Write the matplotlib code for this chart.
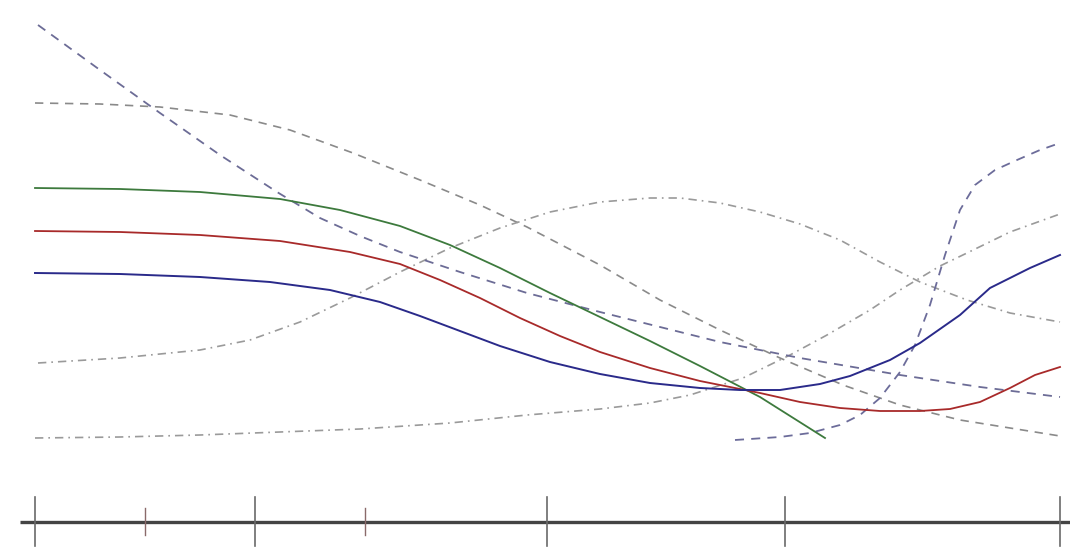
import numpy as np
import matplotlib.pyplot as plt

# points (x to the right, y upwards, image units)
green_x = [35, 120, 200, 280, 340, 400, 450, 500, 550, 600, 650, 700, 760, 825]
green_y = [360, 359, 356, 349, 338, 322, 303, 280, 255, 231, 207, 182, 151, 110]

red_x = [35, 120, 200, 280, 350, 400, 440, 480, 520, 560, 600, 650, 700, 760, 800, 840, 880, 920, 950, 980, 1010, 1035, 1060]
red_y = [317, 316, 313, 307, 296, 284, 268, 250, 230, 212, 196, 180, 167, 155, 146, 140, 137, 137, 139, 146, 160, 173, 181]

navy_x = [35, 120, 200, 270, 330, 380, 420, 460, 500, 550, 600, 650, 700, 740, 780, 820, 850, 890, 920, 960, 990, 1030, 1060]
navy_y = [275, 274, 271, 266, 258, 246, 232, 217, 202, 186, 174, 165, 160, 158, 158, 164, 172, 188, 205, 233, 260, 280, 293]

steep_x = [38, 100, 160, 220, 277, 320, 360, 400, 460, 527, 600, 660, 720, 800, 900, 980, 1060]
steep_y = [523, 478, 435, 393, 356, 330, 312, 296, 276, 255, 236, 221, 206, 190, 173, 161, 151]

top_x = [35, 100, 160, 230, 290, 353, 420, 480, 527, 600, 660, 720, 780, 843, 900, 960, 1010, 1060]
top_y = [445, 444, 441, 433, 418, 395, 368, 343, 321, 283, 248, 218, 190, 163, 143, 128, 120, 112]

bump_x = [38, 120, 200, 250, 300, 350, 400, 450, 500, 550, 600, 650, 680, 720, 760, 800, 840, 880, 920, 967, 1010, 1060]
bump_y = [185, 190, 198, 208, 226, 250, 276, 300, 320, 336, 346, 350, 350, 345, 336, 324, 308, 286, 266, 248, 235, 226]

low_x = [35, 120, 200, 280, 360, 450, 527, 600, 650, 690, 743, 790, 827, 870, 900, 940, 967, 1010, 1060]
low_y = [110, 111, 113, 116, 119, 125, 133, 139, 145, 153, 170, 193, 213, 238, 258, 282, 295, 316, 334]

s_x = [735, 780, 810, 840, 860, 880, 900, 915, 930, 945, 960, 975, 995, 1017, 1040, 1060]
s_y = [108, 111, 115, 123, 133, 150, 176, 203, 243, 293, 338, 363, 378, 388, 398, 405]

major_ticks = [35, 255, 547, 785, 1060]
minor_ticks = [145, 365]

fig = plt.figure(figsize=(10.7, 5.48), dpi=100)
ax = fig.add_axes([0, 0, 1, 1])
ax.set_xlim(0, 1070)
ax.set_ylim(0, 548)
ax.axis('off')

# dashed and dash-dot curves
ax.plot(top_x, top_y, color='#8a8a8a', lw=1.2, ls=(0, (5, 4)))
ax.plot(bump_x, bump_y, color='#9a9a9a', lw=1.2, ls=(0, (5, 3, 1, 3)))
ax.plot(low_x, low_y, color='#9a9a9a', lw=1.2, ls=(0, (5, 3, 1, 3)))
ax.plot(steep_x, steep_y, color='#6c6c96', lw=1.3, ls=(0, (5, 4)))
ax.plot(s_x, s_y, color='#6c6c9a', lw=1.3, ls=(0, (5, 4)))

# solid curves
ax.plot(green_x, green_y, color='#3d7a3d', lw=1.3)
ax.plot(red_x, red_y, color='#a82a2a', lw=1.3)
ax.plot(navy_x, navy_y, color='#2a2a8a', lw=1.4)

# number line at the bottom
ax.plot([20, 1070], [26, 26], color='#444444', lw=2.4, solid_capstyle='butt')
for t in major_ticks:
    ax.plot([t, t], [2, 51], color='#6a6a6a', lw=1.2)
for t in minor_ticks:
    ax.plot([t, t], [13, 40], color='#8a6a6a', lw=1.0)

fig.savefig('out.png', dpi=100)
